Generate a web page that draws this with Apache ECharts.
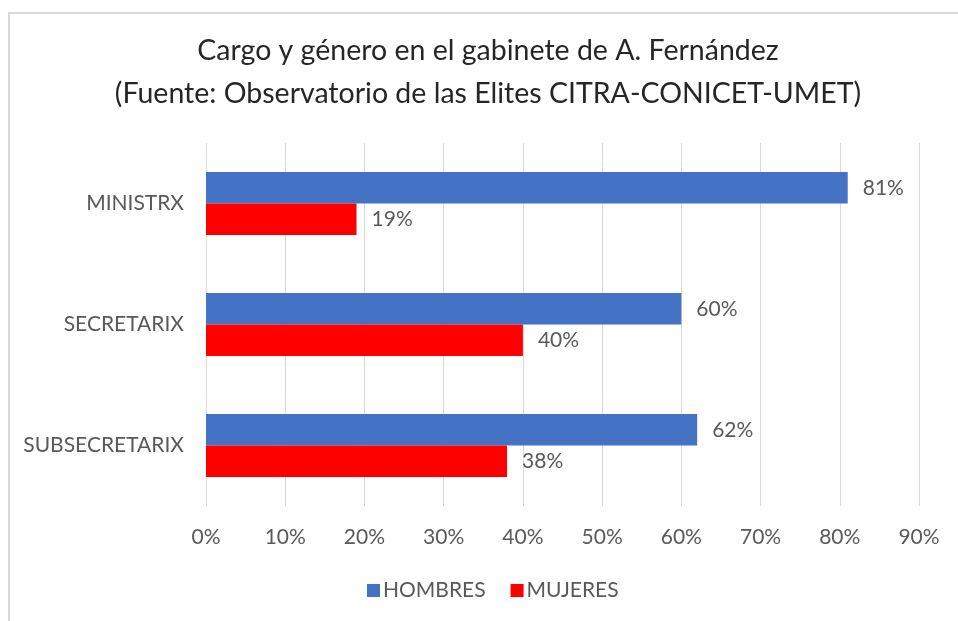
<!DOCTYPE html>
<html>
<head>
<meta charset="utf-8">
<script src="https://cdn.jsdelivr.net/npm/echarts@6/dist/echarts.min.js"></script>
<style>
    html, body {margin: 0; padding: 0; background: #fff;}
    #chart {width: 958px; height: 621px;}
</style>
</head>
<body>
<div id="chart"></div>
<script>
// datos del grafico
let categories = ['MINISTRX', 'SECRETARIX', 'SUBSECRETARIX']
let hombres = [81, 60, 62]
let mujeres = [19, 40, 38]
let xTicks = [0, 10, 20, 30, 40, 50, 60, 70, 80, 90]

let font = 'Lato, "Open Sans", sans-serif'
let gray = '#595959'

let chartInst = echarts.init(document.getElementById('chart'), null, {renderer: 'canvas'})

chartInst.setOption({
    animation: false,
    backgroundColor: '#fff',
    textStyle: {fontFamily: font},
    graphic: [{
        // borde del area del grafico
        type: 'rect',
        shape: {x: 9, y: 13, width: 1000, height: 700},
        style: {fill: null, stroke: '#d9d9d9', lineWidth: 2},
        silent: true,
        z: -1
    }],
    title: {
        text: 'Cargo y género en el gabinete de A. Fernández\n(Fuente: Observatorio de las Elites CITRA-CONICET-UMET)',
        // centrado en x=488, como en el original
        left: 483,
        top: 24,
        textAlign: 'center',
        textStyle: {
            fontFamily: font,
            fontSize: 28.5,
            fontWeight: 'normal',
            color: '#262626',
            lineHeight: 43
        }
    },
    legend: {
        data: ['HOMBRES', 'MUJERES'],
        bottom: 15,
        left: 362,
        itemWidth: 13,
        itemHeight: 13,
        itemGap: 25,
        icon: 'rect',
        textStyle: {fontFamily: font, fontSize: 21, color: gray, padding: [0, 0, 0, -2]}
    },
    grid: {left: 206, right: 39, top: 143, bottom: 115, containLabel: false},
    xAxis: {
        type: 'value',
        min: xTicks[0],
        max: xTicks[xTicks.length - 1],
        interval: 10,
        axisLine: {show: false},
        axisTick: {show: false},
        axisLabel: {
            formatter: '{value}%',
            fontFamily: font,
            fontSize: 21,
            color: gray,
            margin: 21
        },
        splitLine: {lineStyle: {color: '#d9d9d9', width: 1}}
    },
    yAxis: {
        type: 'category',
        data: categories,
        inverse: true,
        axisLine: {show: false},
        axisTick: {show: false},
        axisLabel: {fontFamily: font, fontSize: 21, color: gray, margin: 22}
    },
    series: [
        {
            name: 'HOMBRES',
            type: 'bar',
            data: hombres,
            barGap: '0%',
            barCategoryGap: '48%',
            itemStyle: {color: '#4472c4'},
            label: {
                show: true,
                position: 'right',
                distance: 15,
                formatter: '{c}%',
                fontFamily: font,
                fontSize: 21,
                color: gray
            }
        },
        {
            name: 'MUJERES',
            type: 'bar',
            data: mujeres,
            barGap: '0%',
            barCategoryGap: '48%',
            itemStyle: {color: '#ff0000'},
            label: {
                show: true,
                position: 'right',
                distance: 15,
                formatter: '{c}%',
                fontFamily: font,
                fontSize: 21,
                color: gray
            }
        }
    ]
})
</script>
</body>
</html>
